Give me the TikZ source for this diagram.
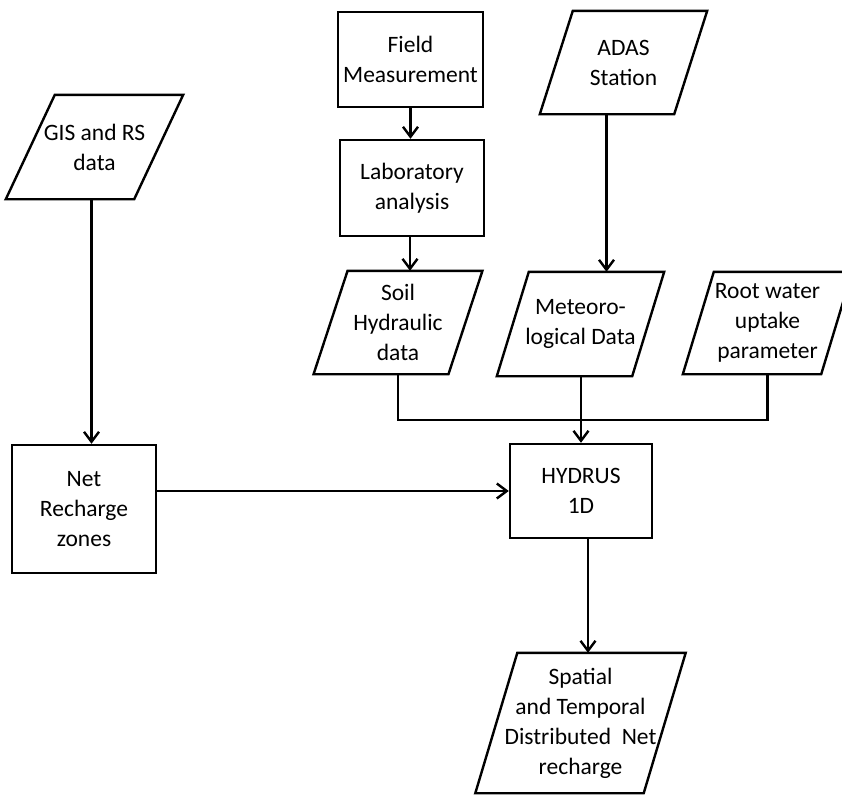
\documentclass[tikz,border=0pt]{standalone}
\usepackage{fontspec}
\setmainfont{Carlito}
\usetikzlibrary{arrows.meta}
\tikzset{>={Straight Barb[length=10pt,width=15pt]}}
\tikzset{
	procbox/.style = {draw, line width=2.4pt, align=center, inner sep=2pt},
	databox/.style = {align=center, inner sep=1pt,
		append after command={\pgfextra{\draw [line width=2.4pt, line join=miter]
			([xshift=-#1/2]\tikzlastnode.south west) -- ([xshift=-#1/2]\tikzlastnode.south east)
			-- ([xshift=#1/2]\tikzlastnode.north east) -- ([xshift=#1/2]\tikzlastnode.north west) -- cycle;}}},
	flow/.style = {line width=2.4pt}
}

\begin{document}
\begin{tikzpicture}[x=1pt, y=-1pt, font=\fontsize{23.5}{30}\selectfont]
	\useasboundingbox (0,0) rectangle (842,796);
	\node [databox=49pt, minimum width=128pt, minimum height=104pt] (gis) at (94.5,147) {GIS and RS\\data};
	\node [procbox, minimum width=145pt, minimum height=95pt] (field) at (410.5,59.5) {Field\\Measurement};
	\node [procbox, minimum width=144pt, minimum height=96pt] (lab) at (412,188) {Laboratory\\analysis};
	\node [databox=33pt, minimum width=134pt, minimum height=103pt] (adas) at (623.5,62.5) {ADAS\\Station};
	\node [databox=34pt, minimum width=134.5pt, minimum height=103pt] (soil) at (398,322.5) {Soil\\Hydraulic\\data};
	\node [databox=32pt, minimum width=135pt, minimum height=104pt] (met) at (580.5,324) {Meteoro-\\logical Data};
	\node [databox=31pt, minimum width=138pt, minimum height=102pt] (root) at (767.5,323) {Root water\\uptake\\parameter};
	\node [procbox, minimum width=144pt, minimum height=128pt] (net) at (84,509) {Net\\Recharge\\zones};
	\node [procbox, minimum width=142pt, minimum height=94pt] (hyd) at (581,491) {HYDRUS\\1D};
	\node [databox=42pt, minimum width=168pt, minimum height=140pt] (out) at (580.5,723) {Spatial\\and Temporal\\Distributed~ Net\\recharge};
	\coordinate (jn) at (581,420);

	\draw [flow, ->] ([xshift=-3pt]gis.south) -- ([xshift=-3pt]gis.south |- net.north);
	\draw [flow, ->] (field.south) -- (field.south |- lab.north);
	\draw [flow, ->] ([xshift=-2pt]lab.south) -- ([xshift=-2pt]lab.south |- soil.north);
	\draw [flow, ->] ([xshift=-17pt]adas.south) -- ([xshift=-17pt]adas.south |- met.north);
	\draw [flow] (soil.south) |- (jn) -| (root.south);
	\draw [flow, ->] (met.south -| hyd.north) -- (hyd.north);
	\draw [flow, ->] (net.east |- hyd.west) -- (hyd.west);
	\draw [flow, ->] ([xshift=7pt]hyd.south) -- ([xshift=7pt]hyd.south |- out.north);
\end{tikzpicture}
\end{document}
